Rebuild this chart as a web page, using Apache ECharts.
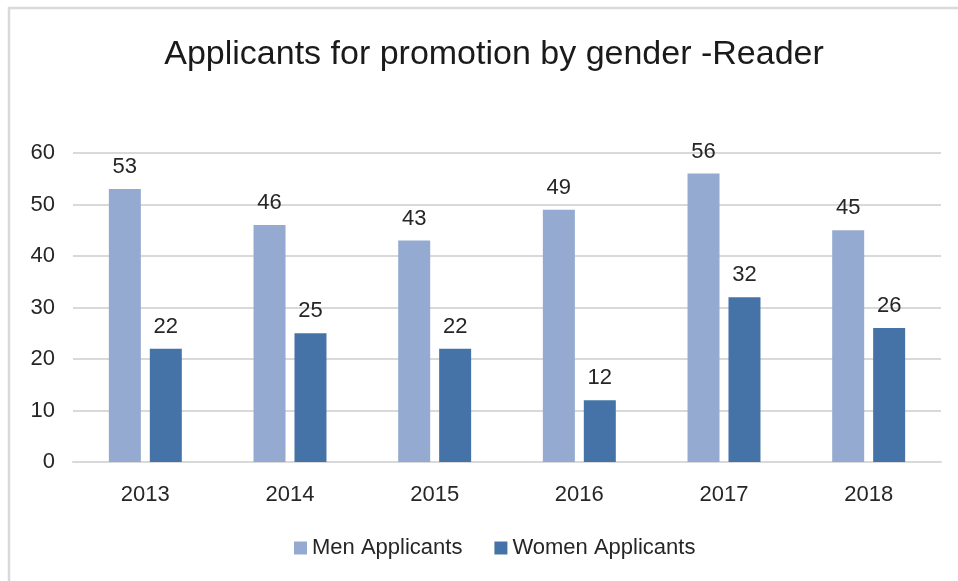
<!DOCTYPE html>
<html>
<head>
<meta charset="utf-8">
<title>Applicants for promotion by gender -Reader</title>
<script src="https://cdn.jsdelivr.net/npm/echarts@6/dist/echarts.min.js"></script>
<style>
  html, body { margin: 0; padding: 0; background: #ffffff; }
  #chart { width: 958px; height: 581px; }
</style>
</head>
<body>
<div id="chart"></div>
<script>
// Promotion applicants to Reader, by year and gender
const years = ['2013', '2014', '2015', '2016', '2017', '2018'];
const menApplicants = [53, 46, 43, 49, 56, 45];
const womenApplicants = [22, 25, 22, 12, 32, 26];
const seriesNames = ['Men Applicants', 'Women Applicants'];
const titleText = 'Applicants for promotion by gender -Reader';

const FONT = '"Liberation Sans", Arial, sans-serif';
const TEXT = '#262626';
const GRID = '#d9d9d9';
const MEN = '#95aad1';
const WOMEN = '#4573a8';

const chart = echarts.init(document.getElementById('chart'), null, { renderer: 'canvas' });

const labelStyle = {
  show: true,
  position: 'top',
  distance: 11,
  color: TEXT,
  fontFamily: FONT,
  fontSize: 22
};

chart.setOption({
  animation: false,
  backgroundColor: '#ffffff',
  textStyle: { fontFamily: FONT },
  title: {
    text: titleText,
    left: 489,
    top: 33,
    textAlign: 'center',
    textStyle: { color: '#1a1a1a', fontFamily: FONT, fontSize: 34, fontWeight: 'normal' }
  },
  // frame edges along the top and left of the chart area
  graphic: [
    { type: 'line', shape: { x1: 8, y1: 8, x2: 958, y2: 8 }, style: { stroke: GRID, lineWidth: 2.5 }, silent: true },
    { type: 'line', shape: { x1: 9, y1: 7, x2: 9, y2: 581 }, style: { stroke: GRID, lineWidth: 2.5 }, silent: true }
  ],
  legend: {
    data: seriesNames,
    left: 289,
    top: 532,
    itemWidth: 13,
    itemHeight: 13,
    itemGap: 32,
    icon: 'rect',
    textStyle: { color: TEXT, fontFamily: FONT, fontSize: 22 }
  },
  grid: { left: 73, right: 17, top: 153, bottom: 119, containLabel: false },
  xAxis: {
    type: 'category',
    data: years,
    axisLine: { show: true, lineStyle: { color: GRID, width: 2 } },
    axisTick: { show: false },
    axisLabel: { color: TEXT, fontFamily: FONT, fontSize: 22, margin: 22 }
  },
  yAxis: {
    type: 'value',
    min: 0,
    max: 60,
    interval: 10,
    axisLine: { show: false },
    axisTick: { show: false },
    axisLabel: { color: TEXT, fontFamily: FONT, fontSize: 22, margin: 18 },
    splitLine: { lineStyle: { color: GRID, width: 2 } }
  },
  series: [
    {
      name: seriesNames[0],
      type: 'bar',
      data: menApplicants,
      barWidth: 32,
      barGap: '28%',
      itemStyle: { color: MEN },
      label: labelStyle
    },
    {
      name: seriesNames[1],
      type: 'bar',
      data: womenApplicants,
      barWidth: 32,
      barGap: '28%',
      itemStyle: { color: WOMEN },
      label: labelStyle
    }
  ]
});
</script>
</body>
</html>
